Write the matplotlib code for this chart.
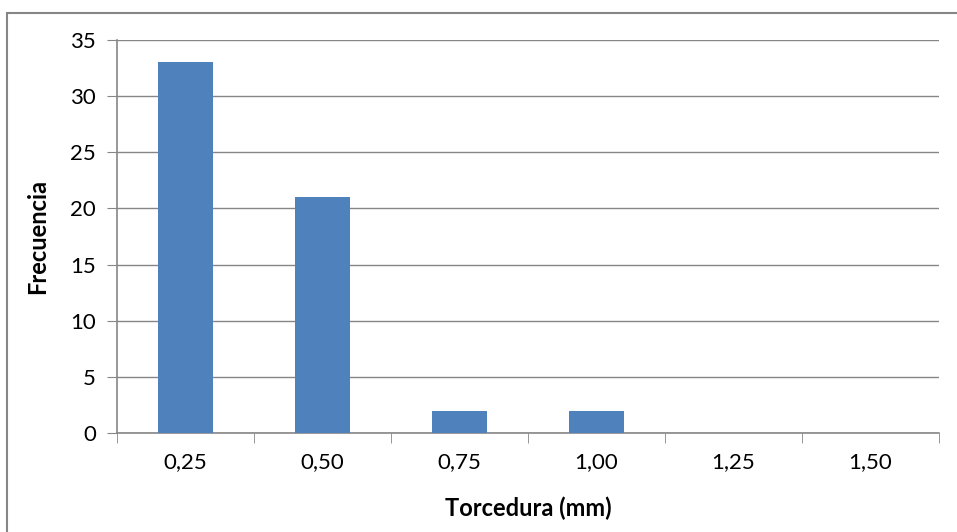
import matplotlib
matplotlib.use("Agg")
import matplotlib.pyplot as plt
from matplotlib.patches import Rectangle

categories = ["0,25", "0,50", "0,75", "1,00", "1,25", "1,50"]
frequencies = [33, 21, 2, 2, 0, 0]
yticks = [0, 5, 10, 15, 20, 25, 30, 35]

plt.rcParams['font.family'] = ['Lato', 'DejaVu Sans']

W, H = 957, 532
fig = plt.figure(figsize=(W/100, H/100), dpi=100)
fig.patch.set_facecolor("white")
# outer chart border
fig.patches.append(Rectangle((7/W, -0.05), 1.1, (H-13)/H + 0.05, transform=fig.transFigure,
                             fill=False, edgecolor="#868686", linewidth=1.5))

ax = fig.add_axes([117/W, 1-433/H, (939-117)/W, (433-40)/H])
x = list(range(len(categories)))
ax.bar(x, frequencies, width=0.4, color="#4F81BD", zorder=3)
ax.set_xlim(-0.5, len(categories)-0.5)
ax.set_ylim(0, 35)
ax.set_yticks(yticks)
ax.set_xticks(x)
ax.set_xticklabels(categories)
ax.grid(axis="y", color="#868686", linewidth=1, zorder=0)
for s in ["top", "right"]:
    ax.spines[s].set_visible(False)
for s in ["left", "bottom"]:
    ax.spines[s].set_color("#868686")
    ax.spines[s].set_linewidth(1.2)
ax.tick_params(axis="y", length=7, color="#868686", labelsize=16, pad=8)
ax.tick_params(axis="x", length=0, labelsize=16, pad=14)
# minor ticks at category boundaries on x
ax.set_xticks([i - 0.5 for i in range(len(categories)+1)], minor=True)
ax.tick_params(axis="x", which="minor", length=7, color="#868686", direction="out")
ax.set_xlabel("Torcedura (mm)", fontsize=17, fontweight="bold", labelpad=17)
ax.set_ylabel("Frecuencia", fontsize=17, fontweight="bold", labelpad=15)
fig.savefig("out.png", dpi=100)
